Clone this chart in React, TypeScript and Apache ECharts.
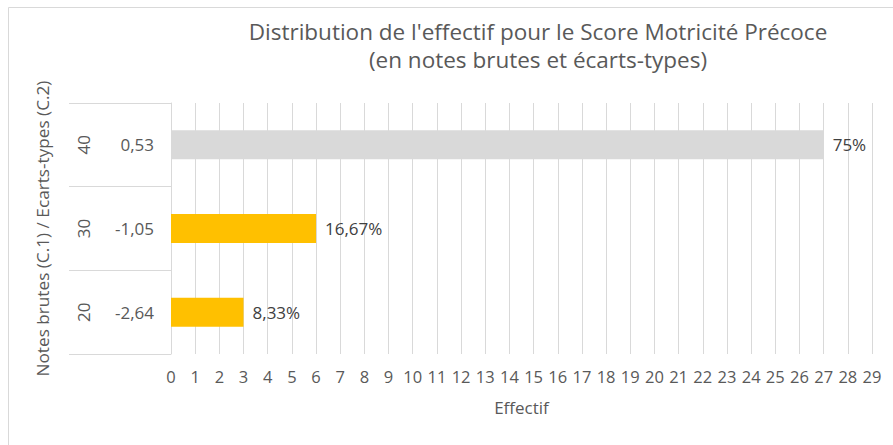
import React, { useEffect, useRef } from "react";
import * as echarts from "echarts";

const notesBrutes = ["20", "30", "40"];
const ecartsTypes = ["-2,64", "-1,05", "0,53"];
const effectifs = [3, 6, 27];
const pourcentages = ["8,33%", "16,67%", "75%"];
const barColors = ["#FFC000", "#FFC000", "#D9D9D9"];
const titleLines = [
  "Distribution de l'effectif pour le Score Motricité Précoce",
  "(en notes brutes et écarts-types)",
];
const xAxisName = "Effectif";
const yAxisName = "Notes brutes (C.1) / Ecarts-types (C.2)";

const FONT = "Open Sans";
const TXT = "#595959";
const GRID = "#D9D9D9";

export default function App() {
  const ref = useRef<HTMLDivElement>(null);
  useEffect(() => {
    document.body.style.margin = "0";
    if (!ref.current) return;
    const chart = echarts.init(ref.current, undefined, { renderer: "svg" });
    chart.setOption({
      animation: false,
      textStyle: { fontFamily: FONT },
      title: {
        text: titleLines.join("\n"),
        left: 533,
        top: 12,
        textAlign: "center",
        textStyle: {
          fontFamily: FONT,
          fontSize: 22.5,
          fontWeight: "normal",
          color: TXT,
          lineHeight: 28,
        },
      },
      graphic: [
        {
          type: "rect",
          shape: { x: 8.5, y: 7.5, width: 900, height: 450 },
          style: { fill: "none", stroke: GRID, lineWidth: 1 },
          silent: true,
        },
      ],
      grid: { left: 171, right: 21, top: 103, bottom: 91, containLabel: false },
      xAxis: {
        type: "value",
        min: 0,
        max: 29,
        interval: 1,
        axisLine: { show: false },
        axisTick: { show: false },
        splitLine: { show: true, lineStyle: { color: GRID, width: 1 } },
        axisLabel: { color: TXT, fontSize: 16.5, fontFamily: FONT, margin: 14 },
        name: xAxisName,
        nameLocation: "middle",
        nameGap: 45,
        nameTextStyle: { color: TXT, fontSize: 17, fontFamily: FONT },
      },
      yAxis: [
        {
          type: "category",
          data: ecartsTypes,
          position: "left",
          axisLine: { show: true, lineStyle: { color: GRID } },
          axisTick: { show: true, length: 102, lineStyle: { color: GRID } },
          axisLabel: { color: TXT, fontSize: 17, fontFamily: FONT, margin: 17 },
        },
        {
          type: "category",
          data: notesBrutes,
          position: "left",
          offset: 79,
          axisLine: { show: false },
          axisTick: { show: false },
          axisLabel: {
            color: TXT,
            fontSize: 17,
            fontFamily: FONT,
            rotate: 90,
            margin: 0,
            align: "center",
            verticalAlign: "bottom",
          },
          name: yAxisName,
          nameLocation: "middle",
          nameRotate: 90,
          nameGap: 41,
          nameTextStyle: { color: TXT, fontSize: 17.2, fontFamily: FONT },
        },
      ],
      series: [
        {
          type: "bar",
          yAxisIndex: 0,
          barWidth: 29,
          data: effectifs.map((v, i) => ({
            value: v,
            itemStyle: { color: barColors[i] },
            label: { formatter: pourcentages[i] },
          })),
          label: {
            show: true,
            position: "right",
            distance: 9,
            color: "#404040",
            fontSize: 17,
            fontFamily: FONT,
          },
        },
      ],
    });
    return () => chart.dispose();
  }, []);
  return <div ref={ref} style={{ width: 893, height: 445 }} />;
}
